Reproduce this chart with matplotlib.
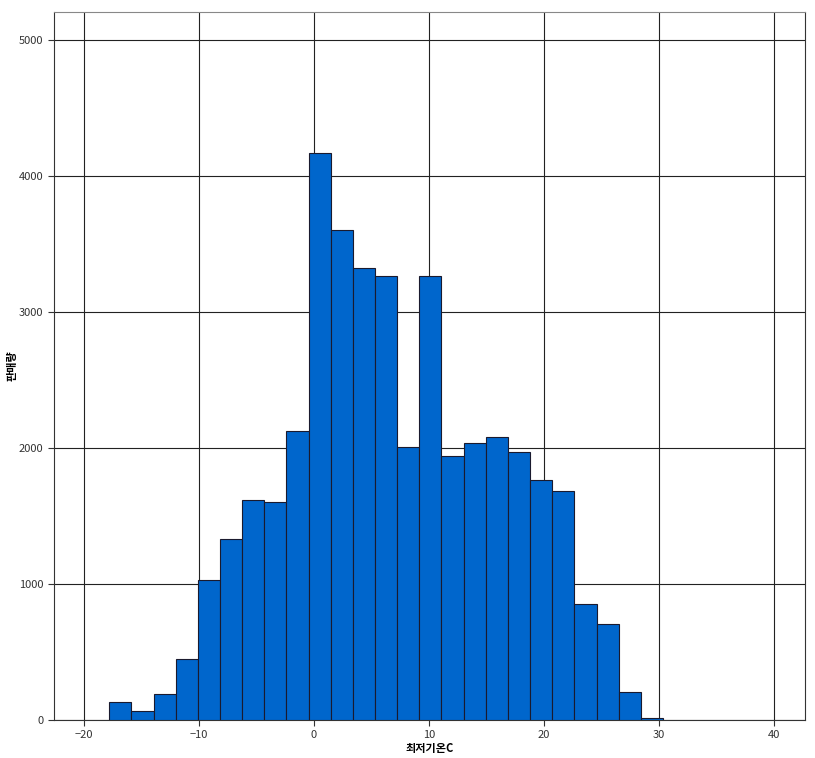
import numpy as np
import matplotlib.pyplot as plt

plt.rcParams['font.family'] = ['Noto Sans CJK KR', 'DejaVu Sans']

# histogram bins (min temperature, C) and counts
bin_start = -17.8
bin_width = 1.926
counts = [132, 66, 191, 449, 1029, 1331, 1618, 1603, 2125, 4169,
          3603, 3324, 3265, 2007, 3265, 1941, 2037, 2081, 1971, 1765,
          1684, 853, 706, 206, 15]
x_ticks = [-20, -10, 0, 10, 20, 30, 40]
y_ticks = [0, 1000, 2000, 3000, 4000, 5000]

edges = bin_start + bin_width * np.arange(len(counts) + 1)

fig = plt.figure(figsize=(8.15, 7.58), dpi=100)
ax = fig.add_axes([54 / 815, 38 / 758, 751 / 815, 708 / 758])

ax.bar(edges[:-1], counts, width=bin_width, align='edge',
       color='#0066cc', edgecolor='#1a1a2e', linewidth=0.8, zorder=3)

ax.set_xlim(-22.6, 42.7)
ax.set_ylim(0, 5206)
ax.set_xticks(x_ticks)
ax.set_yticks(y_ticks)
ax.grid(True, color='#222222', linewidth=0.8, zorder=0)
ax.set_axisbelow(True)

for s in ax.spines.values():
    s.set_color('#333333')
    s.set_linewidth(0.8)
ax.spines['top'].set_color('#888888')

ax.tick_params(labelsize=8, colors='#333333', length=4)
ax.set_xlabel('최저기온C', fontsize=8, fontweight='bold', labelpad=1)
ax.set_ylabel('판매량', fontsize=8, fontweight='bold', labelpad=0)

fig.savefig('out.png', dpi=100)
